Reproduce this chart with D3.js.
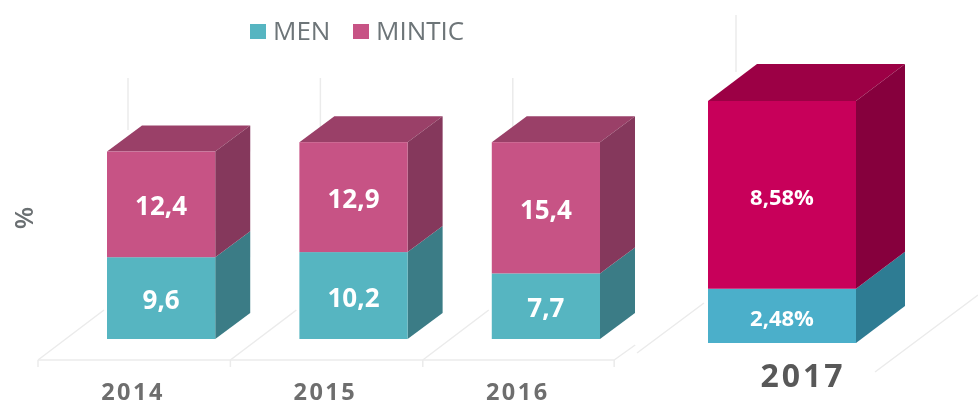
<!DOCTYPE html>
<html>
<head>
<meta charset="utf-8">
<script src="https://cdn.jsdelivr.net/npm/d3@7"></script>
<style>
  html, body { margin: 0; padding: 0; background: #fff; }
  svg { display: block; }
  text { font-family: "Open Sans", sans-serif; }
</style>
</head>
<body>
<div id="chart"></div>
<script>
// values
var years = ['2014', '2015', '2016'];
var men = [9.6, 10.2, 7.7];
var mintic = [12.4, 12.9, 15.4];

var lastYear = ['2017'];
var lastMen = [2.48];
var lastMintic = [8.58];

var legendNames = ['MEN', 'MINTIC'];

var width = 978;
var height = 407;

var svg = d3.select('#chart').append('svg')
  .attr('width', width)
  .attr('height', height);

// the source is a soft, scaled up image
svg.append('defs').append('filter').attr('id', 'soft')
  .append('feGaussianBlur').attr('stdDeviation', 0.55);

var root = svg.append('g').attr('filter', 'url(#soft)');

// the first three years share one scale, 2017 is pasted in bigger with its own
var x = d3.scaleBand().domain(years).range([107, 600]).paddingInner(0.4375).paddingOuter(0);
var y = d3.scaleLinear().domain([0, 25]).range([339, 126]);
var xLast = d3.scaleBand().domain(lastYear).range([708, 856]);
var yLast = d3.scaleLinear().domain([0, 11.06]).range([343, 101]);

var gridColor = '#ebebeb';
var grid = root.append('g').attr('stroke', gridColor).attr('stroke-width', 1.5).attr('fill', 'none');

// back wall verticals and floor lines
years.forEach(function(year) {
  var left = x(year) - 69;
  grid.append('line').attr('x1', x(year) + 21).attr('x2', x(year) + 21).attr('y1', 78).attr('y2', 130);
  grid.append('line').attr('x1', left).attr('x2', left + 66).attr('y1', 360).attr('y2', 310);
  grid.append('line').attr('x1', left).attr('x2', left).attr('y1', 360).attr('y2', 367);
});
var floorEnd = x('2016') + x.step() - 70;
grid.append('line').attr('x1', x('2014') - 69).attr('x2', floorEnd).attr('y1', 360).attr('y2', 360);
grid.append('line').attr('x1', floorEnd).attr('x2', floorEnd).attr('y1', 360).attr('y2', 367);
grid.append('line').attr('x1', floorEnd).attr('x2', floorEnd + 21).attr('y1', 360).attr('y2', 345);

grid.append('line').attr('x1', xLast('2017') + 28).attr('x2', xLast('2017') + 28).attr('y1', 15).attr('y2', 72);
grid.append('line').attr('x1', 637).attr('x2', 704).attr('y1', 353).attr('y2', 303);
grid.append('line').attr('x1', 875).attr('x2', 978).attr('y1', 372).attr('y2', 295);

var palette = {
  men: { front: '#56b5c1', side: '#3b7c86', top: '#3b7c86' },
  mintic: { front: '#c75385', side: '#85375b', top: '#9a4068' }
};
var paletteLast = {
  men: { front: '#4bafca', side: '#2f7b93', top: '#2f7b93' },
  mintic: { front: '#c8005a', side: '#86003d', top: '#9c0044' }
};

// one extruded block: front rect, side and (for the top segment) lid
function drawBlock(g, x0, x1, y0, y1, dx, dy, colors, withTop) {
  if (withTop) {
    g.append('path')
      .attr('d', d3.line()([[x0, y1], [x0 + dx, y1 - dy], [x1 + dx, y1 - dy], [x1, y1]]) + 'Z')
      .attr('fill', colors.top);
  }
  g.append('path')
    .attr('d', d3.line()([[x1, y0], [x1 + dx, y0 - dy], [x1 + dx, y1 - dy], [x1, y1]]) + 'Z')
    .attr('fill', colors.side);
  g.append('rect')
    .attr('x', x0).attr('y', y1)
    .attr('width', x1 - x0).attr('height', y0 - y1)
    .attr('fill', colors.front);
}

function drawLabel(g, cx, cy, label, size) {
  g.append('text')
    .attr('x', cx).attr('y', cy + 2)
    .attr('dy', '.35em')
    .attr('text-anchor', 'middle')
    .attr('font-size', size)
    .attr('font-weight', 700)
    .attr('fill', '#fff')
    .text(label);
}

function comma(v, suffix) {
  return String(v).replace('.', ',') + (suffix || '');
}

function drawBars(names, menVals, minticVals, xs, ys, dx, dy, colors, labelSize, suffix) {
  names.forEach(function(name, i) {
    var g = root.append('g');
    var x0 = xs(name);
    var x1 = x0 + xs.bandwidth();
    var cx = (x0 + x1) / 2;
    var y0 = ys(0);
    var yMid = ys(menVals[i]);
    var yTop = ys(menVals[i] + minticVals[i]);
    drawBlock(g, x0, x1, y0, yMid, dx, dy, colors.men, false);
    drawBlock(g, x0, x1, yMid, yTop, dx, dy, colors.mintic, true);
    drawLabel(g, cx, (y0 + yMid) / 2, comma(menVals[i], suffix), labelSize);
    drawLabel(g, cx, (yMid + yTop) / 2, comma(minticVals[i], suffix), labelSize);
  });
}

drawBars(years, men, mintic, x, y, 35, 26, palette, 26, '');
drawBars(lastYear, lastMen, lastMintic, xLast, yLast, 49, 37, paletteLast, 22, '%');

// year labels
root.selectAll('.year')
  .data(years)
  .enter().append('text')
  .attr('class', 'year')
  .attr('x', function(d) { return x(d) + 26; })
  .attr('y', 400)
  .attr('text-anchor', 'middle')
  .attr('font-size', 23.5)
  .attr('font-weight', 700)
  .attr('letter-spacing', 2.5)
  .attr('fill', '#6e6e6e')
  .text(function(d) { return d; });

root.append('text')
  .attr('x', 803).attr('y', 387)
  .attr('text-anchor', 'middle')
  .attr('font-size', 32)
  .attr('font-weight', 700)
  .attr('letter-spacing', 3)
  .attr('fill', '#595959')
  .text(lastYear[0]);

// y axis title
root.append('text')
  .attr('transform', 'translate(33,218) rotate(-90)')
  .attr('text-anchor', 'middle')
  .attr('font-size', 26)
  .attr('font-weight', 600)
  .attr('fill', '#6b6f72')
  .text('%');

// legend
var legendX = [250, 353];
var legendColors = [palette.men.front, palette.mintic.front];
legendNames.forEach(function(name, i) {
  root.append('rect')
    .attr('x', legendX[i]).attr('y', 24)
    .attr('width', 16).attr('height', 15)
    .attr('fill', legendColors[i]);
  root.append('text')
    .attr('x', legendX[i] + 23).attr('y', 40)
    .attr('font-size', 26)
    .attr('fill', '#6d7478')
    .text(name);
});
</script>
</body>
</html>
